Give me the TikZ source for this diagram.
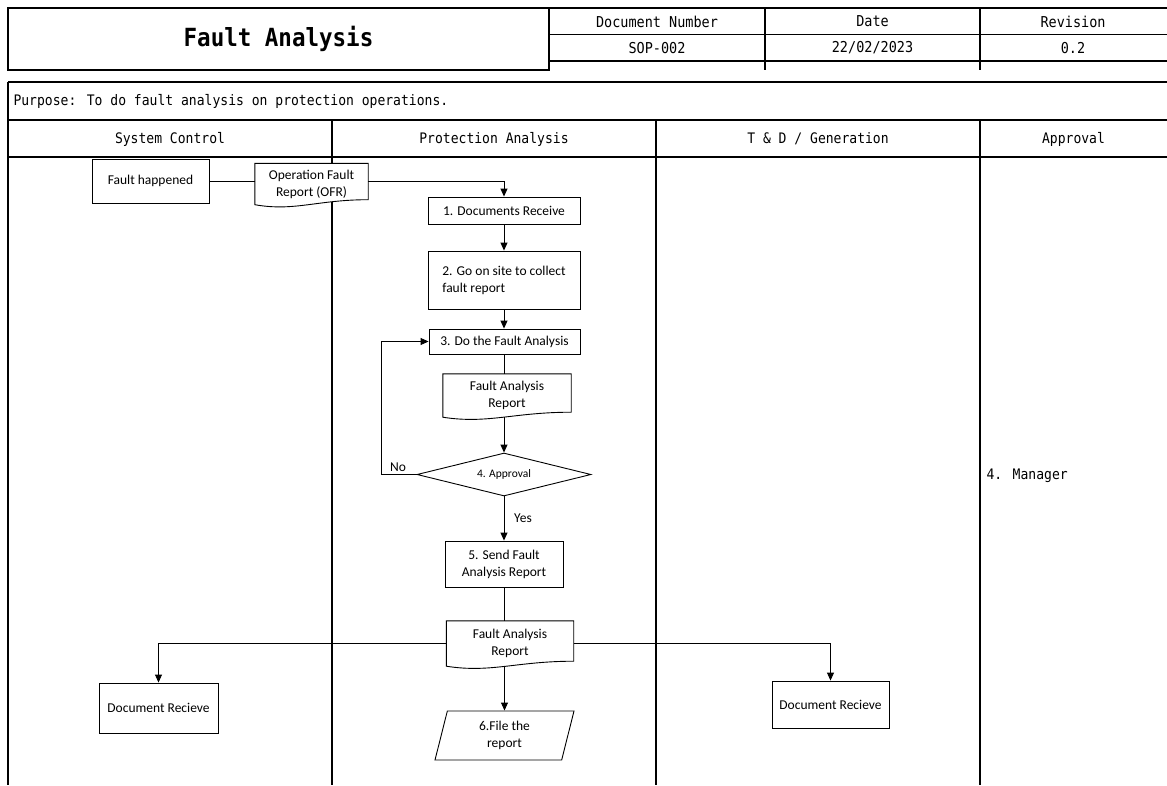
\documentclass[tikz,border=0pt]{standalone}
\usepackage{fontspec}
\setmainfont{Carlito}
\newfontfamily\gothic[FakeStretch=0.9]{DejaVu Sans Mono}
\usetikzlibrary{arrows.meta,shapes.geometric,calc}
\pgfdeclarelayer{lanes}
\pgfdeclarelayer{background}
\pgfsetlayers{lanes,background,main}

\tikzset{
  grid/.style={line width=1.2pt},
  lane/.style={line width=1.6pt},
  nodefont/.style={font=\fontsize{13.5}{17}\selectfont},
  proc/.style={draw, fill=white, line width=0.9pt, align=center, nodefont, inner sep=2pt},
  docbox/.style={align=center, nodefont, inner sep=1pt},
  doc outline/.style={draw, fill=white, line width=0.9pt},
  decision/.style={draw, fill=white, line width=0.9pt, diamond, aspect=4, inner sep=0pt,
    font=\fontsize{11.5}{14}\selectfont},
  datashape/.style={draw, fill=white, line width=0.9pt, trapezium, trapezium left angle=68,
    trapezium right angle=112, trapezium stretches body, align=center, nodefont, inner sep=1pt},
  conn/.style={line width=0.9pt},
  arr/.style={conn, -{Triangle[length=8pt,width=7pt]}},
  headtxt/.style={font=\gothic\fontsize{14.5}{16}\selectfont},
  celltxt/.style={font=\gothic\fontsize{15}{17}\selectfont},
  lbl/.style={nodefont, inner sep=0pt},
}

% outline of a flowchart "document": flat top, wavy bottom edge
\newcommand\docoutline[1]{%
  \begin{pgfonlayer}{background}
  \draw[doc outline] (#1.north west) -- (#1.north east) -- ([yshift=5pt]#1.south east)
    .. controls ([yshift=5pt]$(#1.south west)!0.55!(#1.south east)$)
       and ([yshift=-7pt]$(#1.south west)!0.35!(#1.south east)$) .. (#1.south west) -- cycle;
  \end{pgfonlayer}}

\begin{document}
\begin{tikzpicture}[x=1pt,y=-1pt]
\useasboundingbox (0,0) rectangle (1167,785);

% ---- title block ----
\draw[grid] (8,8) rectangle (549,70);
\draw[grid] (549,8) -- (1167,8);
\draw[grid] (549,34.5) -- (1167,34.5);
\draw[grid] (549,61) -- (1167,61);
\draw[grid] (765,8) -- (765,70);
\draw[grid] (980,8) -- (980,70);
\node[font=\gothic\bfseries\fontsize{25}{28}\selectfont] (title) at (278.5,39) {Fault Analysis};
\node[celltxt] (hdocnum) at (657,21.5) {Document Number};
\node[celltxt] (hdate) at (872.5,21.5) {Date};
\node[celltxt] (hrev) at (1073,21.5) {Revision};
\node[celltxt] (vdocnum) at (657,48) {SOP-002};
\node[celltxt] (vdate) at (872.5,48) {22/02/2023};
\node[celltxt] (vrev) at (1073,48) {0.2};

% ---- swimlane table ----
\begin{pgfonlayer}{lanes}
\draw[grid] (8,82) -- (1167,82);
\draw[grid] (8,120) -- (1167,120);
\draw[grid] (8,157) -- (1167,157);
\draw[grid] (8,82) -- (8,785);
\draw[grid] (332,120) -- (332,785);
\draw[lane] (656,120) -- (656,785);
\draw[lane] (980,120) -- (980,785);
\end{pgfonlayer}
\node[headtxt, anchor=west] (purpose) at (10,101) {Purpose: To do fault analysis on protection operations.};
\node[headtxt] (lane1) at (170,139) {System Control};
\node[headtxt] (lane2) at (494,139) {Protection Analysis};
\node[headtxt] (lane3) at (818,139) {T \& D / Generation};
\node[headtxt] (lane4) at (1073.5,139) {Approval};
\node[headtxt, anchor=west] (manager) at (983,476) {4. Manager};

% ---- flow nodes ----
\node[proc, minimum width=117pt, minimum height=44pt] (fault) at (150.5,181) {Fault happened};
\node[docbox, minimum width=113pt, minimum height=41pt] (ofr) at (311.5,184) {Operation Fault\\Report (OFR)};
\docoutline{ofr}
\node[proc, minimum width=152pt, minimum height=27pt] (recv) at (504,210.5) {1. Documents Receive};
\node[proc, minimum width=152pt, minimum height=58pt, align=left] (site) at (504,280) {2. Go on site to collect\\fault report};
\node[proc, minimum width=151pt, minimum height=25pt] (analyse) at (504.5,341.5) {3. Do the Fault Analysis};
\node[docbox, minimum width=128pt, minimum height=43pt] (far1) at (507,395.5) {Fault Analysis\\Report};
\docoutline{far1}
\node[decision, minimum width=174pt, minimum height=43pt] (approve) at (504,474.5) {4. Approval};
\node[proc, minimum width=118pt, minimum height=46pt] (send) at (504,564) {5. Send Fault\\Analysis Report};
\node[docbox, minimum width=127pt, minimum height=45pt] (far2) at (510,643.5) {Fault Analysis\\Report};
\docoutline{far2}
\node[proc, minimum width=119pt, minimum height=50pt] (recvL) at (158.5,708) {Document Recieve};
\node[proc, minimum width=117pt, minimum height=47pt] (recvR) at (830.5,704.5) {Document Recieve};
\node[datashape, minimum width=139pt, minimum height=49pt] (file) at (504.5,735.5) {6.File the\\report};

% ---- connectors ----
\draw[conn] (fault.east) -- (fault.east -| ofr.west);
\draw[arr] (fault.east -| ofr.east) -| (recv.north);
\draw[arr] (recv.south) -- (site.north -| recv.south);
\draw[arr] (site.south) -- (analyse.north -| site.south);
\draw[conn] (analyse.south -| approve.north) -- (approve.north |- far1.north);
\draw[arr] (approve.north |- far1.south) -- (approve.north);
\draw[arr] (approve.west) -| ([xshift=-47pt]analyse.west) -- (analyse.west);
\node[lbl] (nolbl) at (398,467) {No};
\draw[arr] (approve.south) -- (send.north);
\node[lbl] (yeslbl) at (523,518) {Yes};
\draw[conn] (send.south) -- (send.south |- far2.north);
\draw[arr] (far2.west) -| (recvL.north);
\draw[arr] (far2.east) -| (recvR.north);
\draw[arr] (file.north |- far2.south) -- (file.north);
\end{tikzpicture}
\end{document}
